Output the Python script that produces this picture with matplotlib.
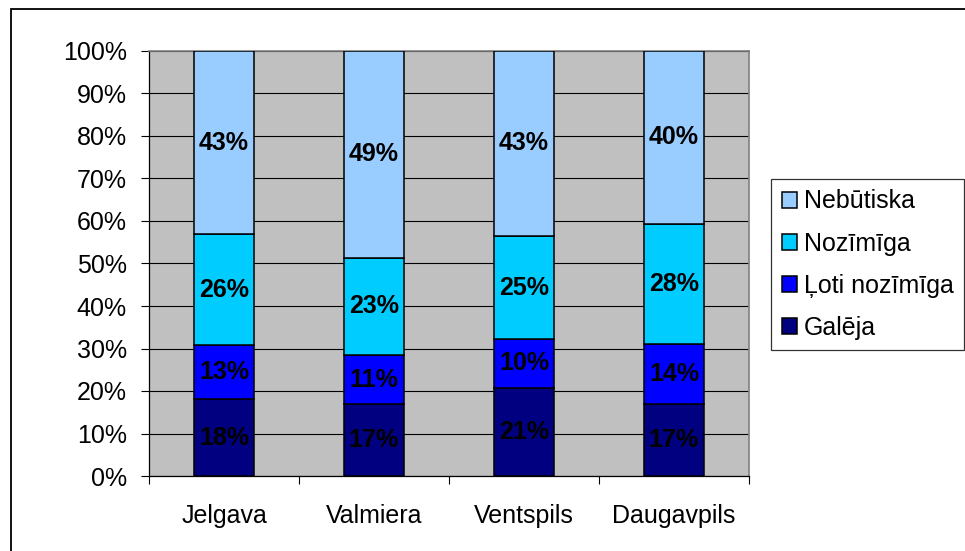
import matplotlib
matplotlib.use("Agg")
import matplotlib.pyplot as plt
import numpy as np
from matplotlib.patches import Patch, Rectangle
from matplotlib.ticker import FixedLocator, PercentFormatter

plt.rcParams['font.family'] = ['Liberation Sans', 'DejaVu Sans']

# dati
pilsetas = ['Jelgava', 'Valmiera', 'Ventspils', 'Daugavpils']
kategorijas = ['Galēja', 'Ļoti nozīmīga', 'Nozīmīga', 'Nebūtiska']
krasas = ['#000080', '#0000FF', '#00CCFF', '#99CCFF']

# segmentu augstumi (% no stabiņa)
galeja = [18.1, 16.9, 20.8, 16.9]
loti = [12.7, 11.6, 11.4, 14.2]
nozimiga = [26.1, 22.8, 24.3, 28.2]
nebutiska = [43.1, 48.7, 43.5, 40.7]

# uzraksti uz stabiņiem
galeja_txt = [18, 17, 21, 17]
loti_txt = [13, 11, 10, 14]
nozimiga_txt = [26, 23, 25, 28]
nebutiska_txt = [43, 49, 43, 40]

serijas = [galeja, loti, nozimiga, nebutiska]
uzraksti = [galeja_txt, loti_txt, nozimiga_txt, nebutiska_txt]

FS = 18
W, H = 965, 551
fig = plt.figure(figsize=(W / 100, H / 100), dpi=100)
ax = fig.add_axes([149 / W, (H - 476) / H, 600 / W, 425 / H])
ax.set_facecolor('#C0C0C0')

x = np.arange(len(pilsetas))
apaksa = np.zeros(len(pilsetas))
rokturi = []
for vert, txt, nos, kr in zip(serijas, uzraksti, kategorijas, krasas):
    vert = np.array(vert)
    ax.bar(x, vert, width=0.4, bottom=apaksa, color=kr, edgecolor='black',
           linewidth=1.1, zorder=3)
    for xi, b, v, t in zip(x, apaksa, vert, txt):
        ax.text(xi, b + v / 2, f'{t}%', ha='center', va='center',
                fontsize=FS, fontweight='bold', color='black', zorder=4)
    apaksa += vert
    rokturi.append(Patch(facecolor=kr, edgecolor='black', linewidth=1.1, label=nos))

ax.set_xlim(-0.5, len(pilsetas) - 0.5)
ax.set_ylim(0, 100)
ax.set_yticks(np.arange(0, 101, 10))
ax.yaxis.set_major_formatter(PercentFormatter(decimals=0))
ax.grid(axis='y', color='black', linewidth=0.8, zorder=1)
ax.set_axisbelow(True)

ax.set_xticks(x)
ax.set_xticklabels(pilsetas)
ax.xaxis.set_minor_locator(FixedLocator(np.arange(-0.5, len(pilsetas), 1)))
ax.tick_params(axis='x', which='major', length=0, pad=20, labelsize=FS)
ax.tick_params(axis='x', which='minor', length=6, width=0.8, color='black')
ax.tick_params(axis='y', length=6, width=0.8, pad=10, labelsize=FS)

for s in ['top', 'right']:
    ax.spines[s].set_color('#808080')
    ax.spines[s].set_linewidth(1.2)
for s in ['left', 'bottom']:
    ax.spines[s].set_color('black')
    ax.spines[s].set_linewidth(0.9)

leg = fig.legend(handles=rokturi[::-1], loc='upper left',
                 bbox_to_anchor=(771 / W, 1 - 179 / H), fontsize=FS,
                 frameon=True, fancybox=False, edgecolor='black',
                 handlelength=0.6, handleheight=0.6, handletextpad=0.3,
                 labelspacing=0.72, borderpad=0.42, borderaxespad=0)
leg.get_frame().set_linewidth(0.9)

# ramis ap visu diagrammu
fig.patches.append(Rectangle((10.5 / W, -0.1), 2, 1.1 - 9.5 / H,
                             transform=fig.transFigure, fill=False,
                             edgecolor='black', linewidth=1.3))

fig.savefig('out.png', dpi=100)
